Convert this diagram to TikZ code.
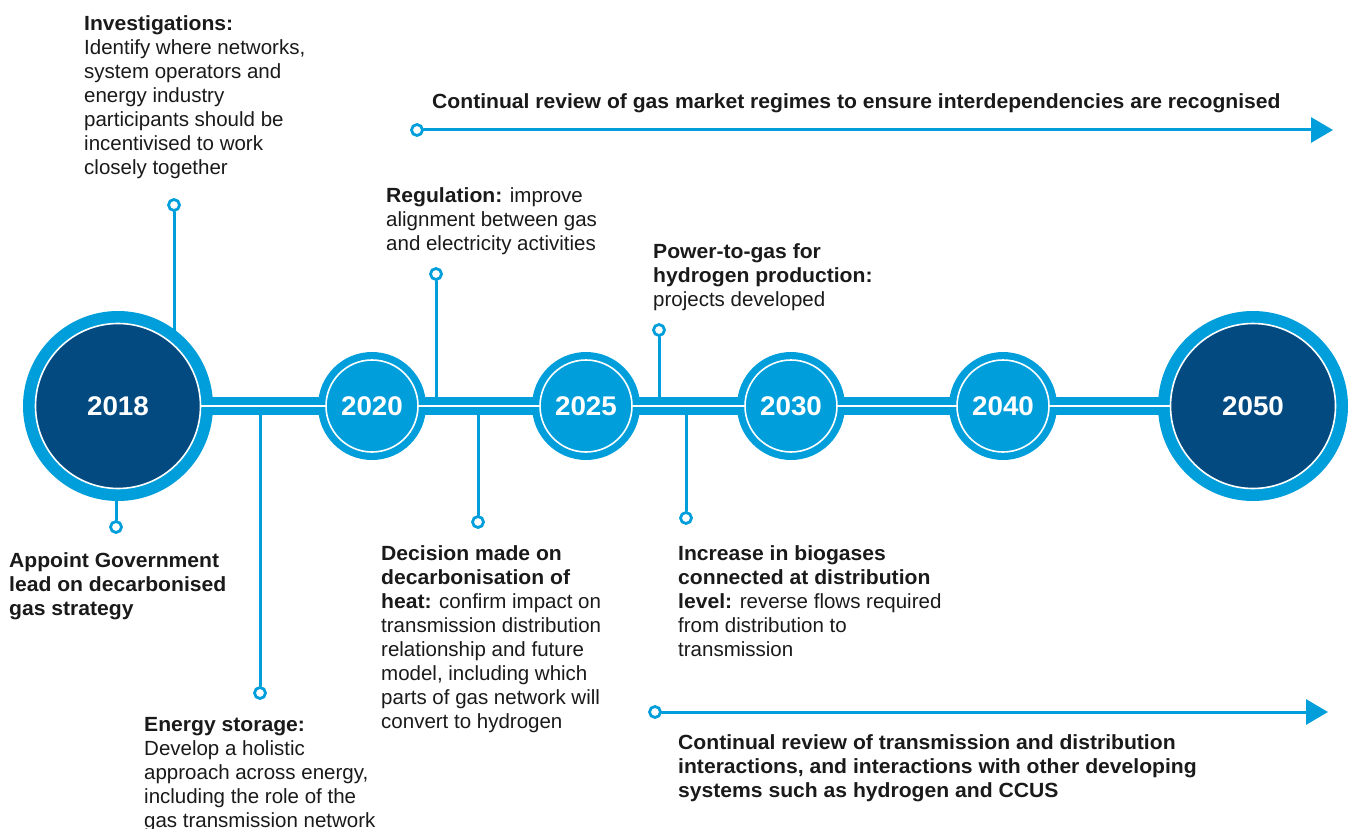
\documentclass[tikz,border=0pt]{standalone}
\usepackage{fontspec}
\setmainfont{Liberation Sans}[BoldFeatures={FakeStretch=1.03}]
\usetikzlibrary{arrows.meta}
\definecolor{gasBlue}{HTML}{009FDB}
\definecolor{gasNavy}{HTML}{034A80}
\definecolor{gasInk}{HTML}{1A1A1A}

\begin{document}
\begin{tikzpicture}[x=1pt,y=-1pt,>=Latex,line cap=round,line join=round]
\path[fill=white,use as bounding box] (0,0) rectangle (1349,829);
\tikzset{stem/.style={draw=gasBlue,line width=3pt},pindot/.style={circle,draw=gasBlue,fill=white,line width=2.8pt,minimum size=11pt,inner sep=0pt},ring/.style={circle,fill=gasBlue,inner sep=0pt},core/.style={circle,draw=white,line width=1.6pt,inner sep=0pt,text=white,font=\bfseries\fontsize{27}{30}\selectfont},note/.style={anchor=north west,inner sep=0pt,align=left,text=gasInk,font=\fontsize{20.5}{24}\selectfont}}
\coordinate (bar) at (0,406);
\node[pindot] (pInv) at (174,205) {};
\node[pindot] (pGov) at (116,527) {};
\node[pindot] (pStore) at (260,693) {};
\node[pindot] (pReg) at (436,274) {};
\node[pindot] (pHeat) at (478,522) {};
\node[pindot] (pP2G) at (659,330) {};
\node[pindot] (pBio) at (686,518) {};
\foreach \p in {pInv,pGov,pStore,pReg,pHeat,pP2G,pBio} \draw[stem] (\p) -- (\p |- bar);
\node[ring,minimum size=190pt] (r2018) at (118,406) {};
\node[ring,minimum size=190pt] (r2050) at (1253,406) {};
\foreach \yr/\px in {2020/372,2025/586,2030/791,2040/1003} \node[ring,minimum size=108pt] (r\yr) at (\px,406) {};
\draw[draw=gasBlue,line width=18pt] (r2018) -- (r2050);
\draw[white,line width=1.6pt] (r2018.center) -- (r2050.center);
\node[core,fill=gasNavy,minimum size=165pt] (y2018) at (r2018) {2018};
\node[core,fill=gasNavy,minimum size=165pt] (y2050) at (r2050) {2050};
\foreach \yr in {2020,2025,2030,2040} \node[core,fill=gasBlue,minimum size=92pt] (y\yr) at (r\yr) {\yr};
\node[pindot] (pTop) at (417,130) {};
\coordinate (tipTop) at (1333,130);
\draw[stem,-{Triangle[length=22pt,width=25pt]}] (pTop) -- (tipTop);
\node[pindot] (pBot) at (655,712) {};
\coordinate (tipBot) at (1328,712);
\draw[stem,-{Triangle[length=22pt,width=25pt]}] (pBot) -- (tipBot);
\node[note] (nTop) at (432,91.2) {\strut\textbf{Continual review of gas market regimes to ensure interdependencies are recognised}};
\node[note] (nInv) at (84,13.2) {\strut\textbf{Investigations:}\\Identify where networks,\\system operators and\\energy industry\\participants should be\\incentivised to work\\closely together};
\node[note] (nReg) at (386,185.2) {\strut\textbf{Regulation:} improve\\alignment between gas\\and electricity activities};
\node[note] (nP2G) at (653,241.2) {\strut\textbf{Power-to-gas for}\\\textbf{hydrogen production:}\\projects developed};
\node[note] (nGov) at (9,550.2) {\strut\textbf{Appoint Government}\\\textbf{lead on decarbonised}\\\textbf{gas strategy}};
\node[note] (nHeat) at (381,543.2) {\strut\textbf{Decision made on}\\\textbf{decarbonisation of}\\\textbf{heat:} confirm impact on\\transmission distribution\\relationship and future\\model, including which\\parts of gas network will\\convert to hydrogen};
\node[note] (nBio) at (678,543.2) {\strut\textbf{Increase in biogases}\\\textbf{connected at distribution}\\\textbf{level:} reverse flows required\\from distribution to\\transmission};
\node[note] (nStore) at (144,714.2) {\strut\textbf{Energy storage:}\\Develop a holistic\\approach across energy,\\including the role of the\\gas transmission network};
\node[note] (nBot) at (678,732.2) {\strut\textbf{Continual review of transmission and distribution}\\\textbf{interactions, and interactions with other developing}\\\textbf{systems such as hydrogen and CCUS}};
\end{tikzpicture}
\end{document}
